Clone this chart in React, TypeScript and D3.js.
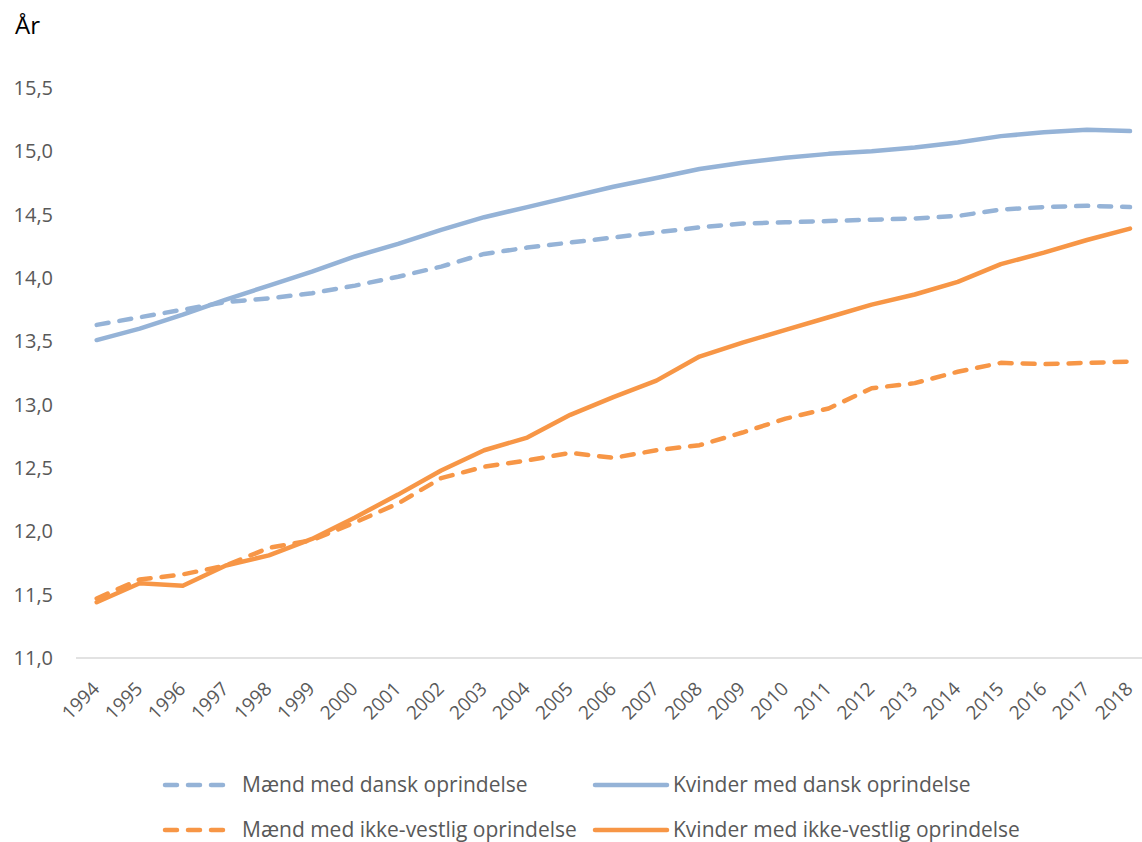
import React from 'react';
import * as d3 from 'd3';

const years = [
  '1994', '1995', '1996', '1997', '1998', '1999', '2000', '2001', '2002', '2003', '2004', '2005',
  '2006', '2007', '2008', '2009', '2010', '2011', '2012', '2013', '2014', '2015', '2016', '2017', '2018',
];

const maendDansk = [
  13.63, 13.69, 13.75, 13.81, 13.84, 13.88, 13.94, 14.01, 14.09, 14.19, 14.24, 14.28,
  14.32, 14.36, 14.40, 14.43, 14.44, 14.45, 14.46, 14.47, 14.49, 14.54, 14.56, 14.57, 14.56,
];

const kvinderDansk = [
  13.51, 13.60, 13.71, 13.83, 13.94, 14.05, 14.17, 14.27, 14.38, 14.48, 14.56, 14.64,
  14.72, 14.79, 14.86, 14.91, 14.95, 14.98, 15.00, 15.03, 15.07, 15.12, 15.15, 15.17, 15.16,
];

const maendIkkeVestlig = [
  11.47, 11.62, 11.66, 11.73, 11.87, 11.93, 12.07, 12.22, 12.42, 12.51, 12.56, 12.62,
  12.58, 12.64, 12.68, 12.78, 12.89, 12.97, 13.13, 13.17, 13.26, 13.33, 13.32, 13.33, 13.34,
];

const kvinderIkkeVestlig = [
  11.44, 11.59, 11.57, 11.73, 11.81, 11.94, 12.11, 12.29, 12.48, 12.64, 12.74, 12.92,
  13.06, 13.19, 13.38, 13.49, 13.59, 13.69, 13.79, 13.87, 13.97, 14.11, 14.20, 14.30, 14.39,
];

const yTicks = [11, 11.5, 12, 12.5, 13, 13.5, 14, 14.5, 15, 15.5];

const BLUE = '#95B3D7';
const ORANGE = '#F79646';
const TEXT = '#595959';
const FONT = '"Open Sans", "Liberation Sans", sans-serif';
const DASH = '12 11';

const series = [
  { name: 'Mænd med dansk oprindelse', values: maendDansk, color: BLUE, dashed: true },
  { name: 'Kvinder med dansk oprindelse', values: kvinderDansk, color: BLUE, dashed: false },
  { name: 'Mænd med ikke-vestlig oprindelse', values: maendIkkeVestlig, color: ORANGE, dashed: true },
  { name: 'Kvinder med ikke-vestlig oprindelse', values: kvinderIkkeVestlig, color: ORANGE, dashed: false },
];

const width = 1142;
const height = 842;

const App: React.FC = () => {
  const xScale = d3.scalePoint<string>()
    .domain(years)
    .range([96.7, 1130]);

  const yScale = d3.scaleLinear()
    .domain([11, 15.5])
    .range([658, 88]);

  const line = d3.line<number>()
    .x((d, i) => xScale(years[i])!)
    .y(d => yScale(d));

  const fmt = (v: number) => d3.format('.1f')(v).replace('.', ',');

  // legend layout: two columns, two rows
  const legendCols = [165, 595];
  const legendRows = [785, 830];

  return (
    <svg
      width={width}
      height={height}
      style={{ position: 'absolute', left: 0, top: 0, background: '#fff' }}
      fontFamily={FONT}
    >
      <text x={15} y={34} fontSize={24} fill="#000">År</text>

      {/* y tick labels */}
      {yTicks.map(t => (
        <text
          key={t}
          x={53}
          y={yScale(t)}
          dy="0.35em"
          textAnchor="end"
          fontSize={20}
          fill={TEXT}
        >
          {fmt(t)}
        </text>
      ))}

      {/* baseline */}
      <line x1={76} x2={width} y1={yScale(11)} y2={yScale(11)} stroke="#d9d9d9" strokeWidth={1.5} />

      {/* x tick labels */}
      {years.map(y => {
        const x = xScale(y)! + 4;
        return (
          <text
            key={y}
            transform={`translate(${x},690) rotate(-45)`}
            textAnchor="end"
            fontSize={19}
            fill={TEXT}
          >
            {y}
          </text>
        );
      })}

      {/* lines */}
      {series.map(s => (
        <path
          key={s.name}
          d={line(s.values) ?? ''}
          fill="none"
          stroke={s.color}
          strokeWidth={4.5}
          strokeLinejoin="round"
          strokeLinecap="round"
          strokeDasharray={s.dashed ? DASH : undefined}
        />
      ))}

      {/* legend */}
      {series.map((s, i) => {
        const lx = legendCols[i % 2];
        const ly = legendRows[Math.floor(i / 2)];
        const sampleLen = s.dashed ? 63 : 72;
        return (
          <g key={s.name}>
            <line
              x1={lx}
              x2={lx + sampleLen}
              y1={ly}
              y2={ly}
              stroke={s.color}
              strokeWidth={4.5}
              strokeLinecap="round"
              strokeDasharray={s.dashed ? DASH : undefined}
            />
            <text x={lx + (s.dashed ? 77 : 78)} y={ly} dy="0.35em" fontSize={21} fill={TEXT}>
              {s.name}
            </text>
          </g>
        );
      })}
    </svg>
  );
};

export default App;
